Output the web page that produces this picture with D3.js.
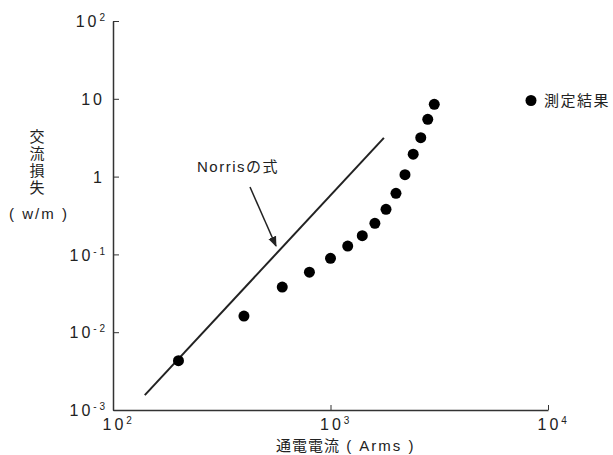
<!DOCTYPE html>
<html>
<head>
<meta charset="utf-8">
<script src="https://cdn.jsdelivr.net/npm/d3@7"></script>
<style>
  body { margin: 0; background: #fff; }
  svg { display: block; }
  text { font-family: "Liberation Sans", Arial, "Noto Sans CJK JP", sans-serif; fill: #222; }
  .jp { font-family: "Noto Sans CJK JP", sans-serif; }
</style>
</head>
<body>
<svg class="chart"></svg>
<script>
// measured loss vs. current
var current = [200, 400, 600, 800, 1000, 1200, 1400, 1600, 1800, 2000, 2200, 2400, 2600, 2800, 3000];
var loss = [0.0043, 0.0161, 0.038, 0.059, 0.089, 0.128, 0.174, 0.251, 0.38, 0.61, 1.06, 1.94, 3.16, 5.45, 8.5];

// Norris formula line (end points)
var norrisX = [140, 1760];
var norrisY = [0.00155, 3.15];

var xTicks = [100, 1000, 10000];
var xExp = ["2", "3", "4"];
var yTicks = [100, 10, 1, 0.1, 0.01, 0.001];
var yBase = ["10", "10", "1", "10", "10", "10"];
var yExp = ["2", "", "", "- 1", "- 2", "- 3"];

var margin = {top: 21, right: 65, bottom: 45, left: 113},
    width = 613 - margin.left - margin.right,
    height = 455 - margin.top - margin.bottom;

var x = d3.scaleLog().domain([100, 10000]).range([0, width]);
var y = d3.scaleLog().domain([0.001, 100]).range([height, 0]);

var svg = d3.select(".chart")
    .attr("width", 613)
    .attr("height", 455);

var chart = svg.append("g")
    .attr("transform", "translate(" + margin.left + "," + margin.top + ")");

// x axis
var xAxis = d3.axisBottom(x).tickValues(xTicks).tickSizeInner(-5).tickSizeOuter(0).tickFormat("");
var gx = chart.append("g")
    .attr("transform", "translate(0," + height + ")")
    .call(xAxis);
gx.select(".domain").attr("stroke", "#333").attr("stroke-width", 1.5);
gx.selectAll(".tick line").attr("stroke", "#333");
gx.selectAll(".tick").each(function(d, i) {
  var t = d3.select(this).append("text")
    .attr("x", -11).attr("y", 20)
    .attr("text-anchor", "start")
    .style("font-size", "16px");
  t.append("tspan").style("letter-spacing", "3px").text("10");
  t.append("tspan").attr("dy", "-0.65em").style("font-size", "10px").text(xExp[i]);
});

// y axis
var yAxis = d3.axisLeft(y).tickValues(yTicks).tickSizeInner(-6).tickSizeOuter(0).tickFormat("");
var gy = chart.append("g").call(yAxis);
gy.select(".domain").attr("stroke", "#333").attr("stroke-width", 1.5);
gy.selectAll(".tick line").attr("stroke", "#333");
gy.selectAll(".tick").each(function(d, i) {
  var t = d3.select(this).append("text")
    .attr("x", -8).attr("dy", "0.35em")
    .attr("text-anchor", "end")
    .style("font-size", "16px");
  t.append("tspan").style("letter-spacing", "3px").text(yBase[i]);
  if (yExp[i]) {
    t.append("tspan").attr("dy", "-0.6em").style("font-size", "10px").text(yExp[i]);
  }
});

// Norris line
chart.append("line")
    .attr("x1", x(norrisX[0])).attr("y1", y(norrisY[0]))
    .attr("x2", x(norrisX[1])).attr("y2", y(norrisY[1]))
    .attr("stroke", "#222")
    .attr("stroke-width", 2);

// points
chart.selectAll(".dot")
    .data(current)
  .enter().append("circle")
    .attr("class", "dot")
    .attr("cx", function(d) { return x(d); })
    .attr("cy", function(d, i) { return y(loss[i]); })
    .attr("r", 5.5)
    .attr("fill", "#000");

// arrow + label
svg.append("defs").append("marker")
    .attr("id", "arr")
    .attr("viewBox", "0 0 10 10")
    .attr("refX", 9).attr("refY", 5)
    .attr("markerWidth", 7).attr("markerHeight", 7)
    .attr("orient", "auto")
  .append("path")
    .attr("d", "M0,1L10,5L0,9z")
    .attr("fill", "#222");

svg.append("line")
    .attr("x1", 250).attr("y1", 187)
    .attr("x2", 276).attr("y2", 246)
    .attr("stroke", "#222")
    .attr("stroke-width", 1.5)
    .attr("marker-end", "url(#arr)");

svg.append("text")
    .attr("x", 197).attr("y", 172)
    .style("font-size", "15px")
    .style("letter-spacing", "1.5px")
    .text("Norrisの式");

// legend
svg.append("circle")
    .attr("cx", 531).attr("cy", 100.5)
    .attr("r", 5.5)
    .attr("fill", "#000");
svg.append("text")
    .attr("class", "jp")
    .attr("x", 544).attr("y", 106)
    .style("font-size", "15px")
    .style("letter-spacing", "1.5px")
    .text("測定結果");

// axis titles
var xlab = svg.append("text")
    .attr("x", 276).attr("y", 451)
    .style("font-size", "15px");
xlab.append("tspan").attr("class", "jp").style("letter-spacing", "1px").text("通電電流");
xlab.append("tspan").style("letter-spacing", "2px").text(" ( Arms )");

svg.append("text")
    .attr("class", "jp")
    .attr("x", 37).attr("y", 129)
    .style("writing-mode", "vertical-rl")
    .style("font-size", "15px")
    .style("letter-spacing", "2px")
    .text("交流損失");
svg.append("text")
    .attr("x", 39).attr("y", 219)
    .attr("text-anchor", "middle")
    .style("font-size", "15px")
    .style("letter-spacing", "2px")
    .text("( w/m )");
</script>
</body>
</html>
